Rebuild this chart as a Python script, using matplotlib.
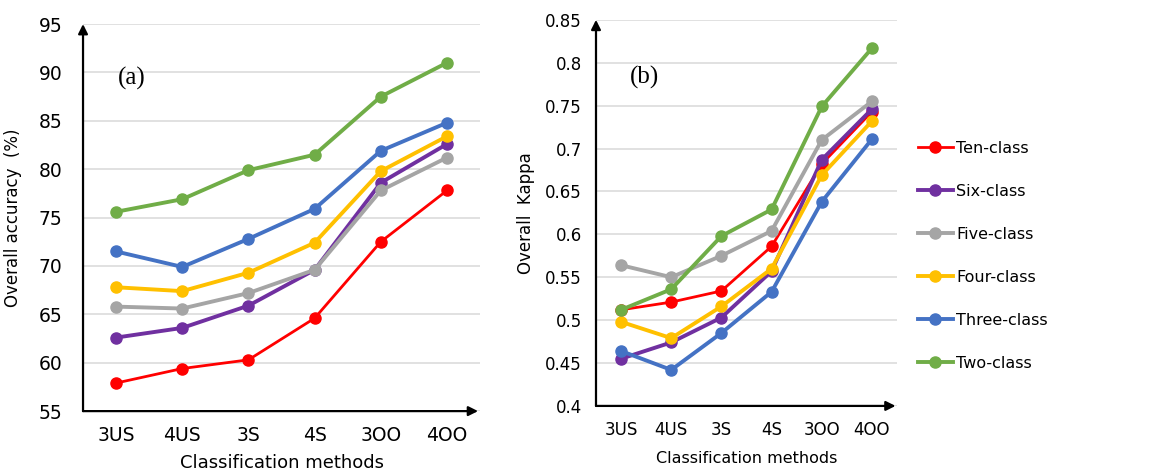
import numpy as np
import matplotlib
matplotlib.use('Agg')
import matplotlib.pyplot as plt

# Data
methods = ['3US', '4US', '3S', '4S', '3OO', '4OO']
labels = ['Ten-class', 'Six-class', 'Five-class', 'Four-class', 'Three-class', 'Two-class']
colors = ['#FF0000', '#7030A0', '#A5A5A5', '#FFC000', '#4472C4', '#70AD47']

# (a) overall accuracy (%)
oa_ten = [57.9, 59.4, 60.3, 64.6, 72.5, 77.8]
oa_six = [62.6, 63.6, 65.9, 69.6, 78.6, 82.6]
oa_five = [65.8, 65.6, 67.2, 69.6, 77.8, 81.2]
oa_four = [67.8, 67.4, 69.3, 72.4, 79.8, 83.4]
oa_three = [71.5, 69.9, 72.8, 75.9, 81.9, 84.8]
oa_two = [75.6, 76.9, 79.9, 81.5, 87.5, 91.0]

# (b) overall kappa
k_ten = [0.512, 0.521, 0.534, 0.586, 0.682, 0.743]
k_six = [0.455, 0.474, 0.503, 0.557, 0.687, 0.746]
k_five = [0.564, 0.550, 0.575, 0.604, 0.710, 0.755]
k_four = [0.498, 0.479, 0.516, 0.560, 0.669, 0.732]
k_three = [0.464, 0.442, 0.485, 0.533, 0.638, 0.711]
k_two = [0.512, 0.536, 0.598, 0.629, 0.749, 0.817]

oa_series = [oa_ten, oa_six, oa_five, oa_four, oa_three, oa_two]
k_series = [k_ten, k_six, k_five, k_four, k_three, k_two]

fig = plt.figure(figsize=(11.76, 4.72), dpi=100)
ax1 = fig.add_axes([0.0706, 0.129, 0.3376, 0.820])
ax2 = fig.add_axes([0.5068, 0.140, 0.256, 0.818])

x = np.arange(len(methods))


def style_axis(ax, ylim, yticks, ytick_labels, ypad, fs):
    for s in ax.spines.values():
        s.set_visible(False)
    ax.set_xlim(-0.5, 5.5)
    ax.set_ylim(*ylim)
    ax.set_yticks(yticks)
    ax.set_yticklabels(ytick_labels)
    ax.set_xticks(x)
    ax.set_xticklabels(methods)
    ax.tick_params(axis='both', length=0, labelsize=fs)
    ax.tick_params(axis='y', pad=ypad)
    ax.tick_params(axis='x', pad=11)
    ax.grid(axis='y', color='#D9D9D9', lw=1.1)
    ax.set_axisbelow(True)
    # axis lines with arrow heads
    ax.annotate('', xy=(0, 1.0), xytext=(0, 0), xycoords='axes fraction',
                arrowprops=dict(arrowstyle='-|>', color='black', lw=1.6,
                                mutation_scale=14, shrinkA=0, shrinkB=0))
    ax.annotate('', xy=(0.995, 0), xytext=(0, 0), xycoords='axes fraction',
                arrowprops=dict(arrowstyle='-|>', color='black', lw=1.6,
                                mutation_scale=14, shrinkA=0, shrinkB=0))


for series, ax in [(oa_series, ax1), (k_series, ax2)]:
    for vals, lab, c in zip(series, labels, colors):
        lw = 2.0 if lab == 'Ten-class' else 2.8
        ax.plot(x, vals, color=c, lw=lw, marker='o', markersize=8,
                label=lab, zorder=3)

style_axis(ax1, (55, 95), np.arange(55, 96, 5),
           [str(v) for v in range(55, 96, 5)], 15, 13.5)
kt = np.arange(0.4, 0.851, 0.05)
style_axis(ax2, (0.4, 0.85), kt,
           ['0.4', '0.45', '0.5', '0.55', '0.6', '0.65', '0.7', '0.75', '0.8', '0.85'],
           10, 12)

ax1.set_xlabel('Classification methods', fontsize=13)
ax1.set_ylabel('Overall accuracy  (%)', fontsize=12)
ax1.xaxis.set_label_coords(0.5, -0.112)
ax1.yaxis.set_label_coords(-0.154, 0.5)
ax2.set_xlabel('Classification methods', fontsize=11.5)
ax2.set_ylabel('Overall  Kappa', fontsize=12)
ax2.xaxis.set_label_coords(0.5, -0.118)
ax2.yaxis.set_label_coords(-0.203, 0.5)

ax1.text(0.088, 0.86, '(a)', transform=ax1.transAxes, fontsize=18,
         family='Liberation Serif', va='center')
ax2.text(0.113, 0.85, '(b)', transform=ax2.transAxes, fontsize=18,
         family='Liberation Serif', va='center')

handles, labs = ax2.get_legend_handles_labels()
fig.legend(handles, labs, loc='center left', bbox_to_anchor=(0.775, 0.458),
           frameon=False, fontsize=11.5, handlelength=2.2, handletextpad=0.2,
           labelspacing=1.75, borderaxespad=0)

fig.savefig('out.png', dpi=100)
